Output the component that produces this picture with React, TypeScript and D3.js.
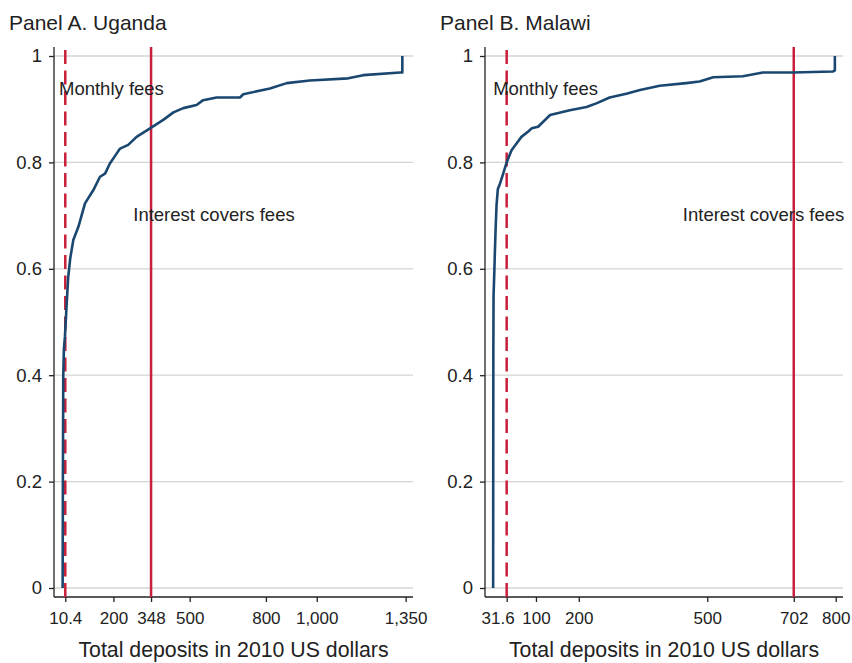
import React, { useEffect, useRef } from 'react'
import * as d3 from 'd3'

// cumulative share of accounts by total deposits
const ugandaDeposits = [0, 1, 2.5, 5, 9, 16, 22, 30, 42, 62, 88, 121, 147, 167, 186, 213, 226, 258, 291, 344, 396, 436, 475, 527, 553, 606, 698, 711, 816, 882, 973, 1124, 1183, 1328, 1337, 1337]
const ugandaShare = [0, 0.2, 0.4, 0.45, 0.472, 0.535, 0.585, 0.62, 0.654, 0.679, 0.723, 0.748, 0.773, 0.779, 0.798, 0.817, 0.826, 0.833, 0.848, 0.864, 0.88, 0.894, 0.902, 0.908, 0.917, 0.922, 0.922, 0.928, 0.939, 0.949, 0.954, 0.958, 0.964, 0.969, 0.969, 1]

const malawiDeposits = [0, 0.5, 1, 3, 4, 6, 8, 11, 16, 22, 31.6, 43, 55, 66, 82, 90, 105, 133, 179, 218, 241, 272, 311, 343, 389, 451, 482, 514, 583, 630, 700, 794, 798, 798]
const malawiShare = [0, 0.45, 0.55, 0.6, 0.63, 0.68, 0.72, 0.75, 0.76, 0.775, 0.8, 0.823, 0.836, 0.848, 0.858, 0.864, 0.867, 0.889, 0.898, 0.904, 0.911, 0.922, 0.929, 0.936, 0.944, 0.949, 0.952, 0.96, 0.962, 0.969, 0.969, 0.971, 0.973, 1]

const ugandaTicks = [10.4, 200, 348, 500, 800, 1000, 1350]
const malawiTicks = [31.6, 100, 200, 500, 702, 800]
const yTicks = [0, 0.2, 0.4, 0.6, 0.8, 1]

const panelTitles = ['Panel A. Uganda', 'Panel B. Malawi']
const feeLines = [10.4, 31.6] // monthly fees
const interestLines = [348, 702] // interest covers fees

const RED = '#c8203a'
const BLUE = '#1a476f'
const INK = '#222'
const FONT = '"Liberation Sans", Arial, Helvetica, sans-serif'

export default function App() {
  const ref = useRef<SVGSVGElement>(null)

  useEffect(() => {
    const svg = d3.select(ref.current)
    svg.selectAll('*').remove()

    const y = d3.scaleLinear().domain([0, 1]).range([588, 56])

    const panels = [
      { xs: ugandaDeposits, ys: ugandaShare, ticks: ugandaTicks, domain: [-34, 1379], range: [54, 413], titleX: 9 },
      { xs: malawiDeposits, ys: malawiShare, ticks: malawiTicks, domain: [-19, 817], range: [485, 843], titleX: 440 },
    ]
    const notes = [
      { fee: [-14.4, 0.927], interest: [278, 0.689] },
      { fee: [0, 0.927], interest: [443, 0.689] },
    ]
    const fmt = d3.format(',')

    panels.forEach((p, i) => {
      const x = d3.scaleLinear().domain(p.domain).range(p.range)
      const g = svg.append('g')
      const top = 47
      const bottom = 597

      g.append('text')
        .attr('x', p.titleX).attr('y', 30)
        .attr('font-size', 21).attr('fill', INK)
        .text(panelTitles[i])

      // gridlines
      g.selectAll('.grid').data(yTicks).enter().append('line')
        .attr('x1', p.range[0]).attr('x2', p.range[1])
        .attr('y1', d => y(d)).attr('y2', d => y(d))
        .attr('stroke', '#d4d4d4').attr('stroke-width', 1.3)

      // y axis
      const ya = g.append('g').attr('transform', `translate(${p.range[0]},0)`)
        .call(d3.axisLeft(y).tickValues(yTicks).tickSize(5).tickPadding(7).tickFormat(d => String(d)))
      ya.select('.domain').attr('d', `M0,${top}V${bottom}`).attr('stroke', INK).attr('stroke-width', 1.3)
      ya.selectAll('.tick line').attr('stroke', INK).attr('stroke-width', 1.3)
      ya.selectAll('.tick text').attr('font-size', 18.5).attr('font-family', FONT).attr('fill', INK)

      // x axis
      const xa = g.append('g').attr('transform', `translate(0,${bottom})`)
        .call(d3.axisBottom(x).tickValues(p.ticks).tickSize(5).tickPadding(10).tickFormat(d => fmt(d as number)))
      xa.select('.domain').attr('d', `M${p.range[0]},0H${p.range[1]}`).attr('stroke', INK).attr('stroke-width', 1.3)
      xa.selectAll('.tick line').attr('stroke', INK).attr('stroke-width', 1.3)
      xa.selectAll('.tick text').attr('font-size', 17).attr('font-family', FONT).attr('fill', INK)
        .attr('dx', d => (i === 1 && d === 31.6 ? -9 : 0))

      g.append('text')
        .attr('x', (p.range[0] + p.range[1]) / 2).attr('y', 657)
        .attr('text-anchor', 'middle').attr('font-size', 21.3).attr('fill', INK)
        .text('Total deposits in 2010 US dollars')

      // reference lines
      g.append('line')
        .attr('x1', x(feeLines[i])).attr('x2', x(feeLines[i]))
        .attr('y1', bottom).attr('y2', top)
        .attr('stroke', RED).attr('stroke-width', 2.5).attr('stroke-dasharray', '14,6.5')
      g.append('line')
        .attr('x1', x(interestLines[i])).attr('x2', x(interestLines[i]))
        .attr('y1', bottom).attr('y2', top)
        .attr('stroke', RED).attr('stroke-width', 2.5)

      // ECDF
      const pts = p.xs.map((v, k) => [v, p.ys[k]] as [number, number])
      const line = d3.line<[number, number]>().x(d => x(d[0])).y(d => y(d[1]))
      g.append('path').attr('d', line(pts)!)
        .attr('fill', 'none').attr('stroke', BLUE).attr('stroke-width', 2.6)
        .attr('stroke-linejoin', 'round')

      g.append('text')
        .attr('x', x(notes[i].fee[0])).attr('y', y(notes[i].fee[1]))
        .attr('font-size', 18.5).attr('fill', INK).text('Monthly fees')
      g.append('text')
        .attr('x', x(notes[i].interest[0])).attr('y', y(notes[i].interest[1]))
        .attr('font-size', 18.5).attr('fill', INK).text('Interest covers fees')
    })
  }, [])

  return (
    <svg ref={ref} width={852} height={663}
      style={{ position: 'absolute', left: 0, top: 0, background: '#fff', fontFamily: FONT }} />
  )
}
